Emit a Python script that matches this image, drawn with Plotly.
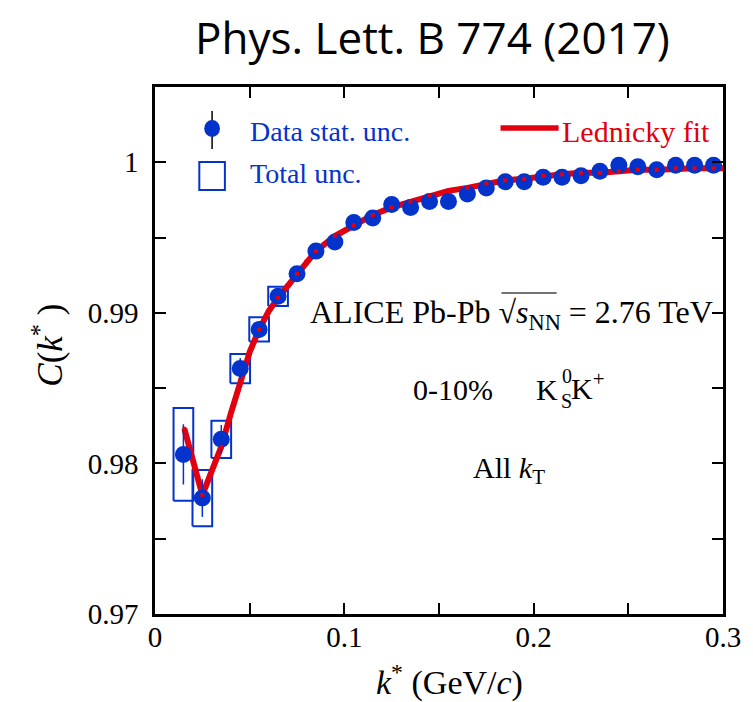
import plotly.graph_objects as go

# ---------------- data ----------------
k_data = [0.015, 0.025, 0.035, 0.045, 0.055, 0.065, 0.075, 0.085, 0.095, 0.105,
          0.115, 0.125, 0.135, 0.145, 0.155, 0.165, 0.175, 0.185, 0.195, 0.205,
          0.215, 0.225, 0.235, 0.245, 0.255, 0.265, 0.275, 0.285, 0.295]
C_data = [0.9806, 0.9777, 0.9816, 0.9863, 0.9889, 0.9911, 0.9926, 0.9941, 0.9947, 0.9960,
          0.9963, 0.9972, 0.9970, 0.9974, 0.9974, 0.9979, 0.9983, 0.9987, 0.9987, 0.9990,
          0.9990, 0.9991, 0.9994, 0.9998, 0.9997, 0.9995, 0.9998, 0.9998, 0.9998]
stat_unc = [0.0020, 0.00125, 0.00095, 0.0007, 0.00055, 0.0004, 0.0003, 0.0003, 0.0003, 0.0003,
            0.0003, 0.0003, 0.0003, 0.0003, 0.0003, 0.0003, 0.0003, 0.0003, 0.0003, 0.0003,
            0.0003, 0.0003, 0.0003, 0.0003, 0.0003, 0.0003, 0.0003, 0.0003, 0.0003]
# total uncertainty boxes (visible ones, first six bins)
k_box = [0.015, 0.025, 0.035, 0.045, 0.055, 0.065]
C_box = [0.9806, 0.9777, 0.9816, 0.9863, 0.9889, 0.9911]
total_unc = [0.00308, 0.00187, 0.00124, 0.00097, 0.00081, 0.00064]
box_halfwidth = 0.0052

# Lednicky fit curve
k_fit = [0.0155, 0.020, 0.025, 0.030, 0.035, 0.040, 0.045, 0.050, 0.055, 0.060,
         0.065, 0.070, 0.075, 0.080, 0.085, 0.095, 0.105, 0.115, 0.125, 0.135,
         0.145, 0.155, 0.165, 0.175, 0.185, 0.195, 0.205, 0.215, 0.225, 0.235,
         0.245, 0.255, 0.265, 0.275, 0.285, 0.295, 0.300]
C_fit = [0.9823, 0.9802, 0.9779, 0.9795, 0.9811, 0.9833, 0.9855, 0.9874, 0.9889, 0.9901,
         0.9910, 0.9918, 0.9926, 0.9934, 0.9941, 0.9951, 0.9958, 0.9965, 0.9970, 0.9974,
         0.9978, 0.9981, 0.9983, 0.9986, 0.9988, 0.9989, 0.9991, 0.9992, 0.9993, 0.9993,
         0.9994, 0.9995, 0.9995, 0.9996, 0.9996, 0.9996, 0.9996]

x_tickvals = [0, 0.05, 0.1, 0.15, 0.2, 0.25, 0.3]
x_ticktext = ["0", "", "0.1", "", "0.2", "", "0.3"]
y_tickvals = [0.97, 0.975, 0.98, 0.985, 0.99, 0.995, 1.0]
y_ticktext = ["0.97", "", "0.98", "", "0.99", "", "1"]

BLUE = "#0433cc"
RED = "#e2000f"
SERIF = "Liberation Serif, Times New Roman, serif"

W, H = 753, 702
L, R, T, B = 155, 21, 87, 88


def px(x):
    return (x - L) / (W - L - R)


def py(y):
    return (H - B - y) / (H - T - B)


fig = go.Figure()

# total uncertainty boxes built from arrays
bx, by = [], []
for k, c, u in zip(k_box, C_box, total_unc):
    bx += [k - box_halfwidth, k + box_halfwidth, k + box_halfwidth, k - box_halfwidth, k - box_halfwidth, None]
    by += [c - u, c - u, c + u, c + u, c - u, None]
fig.add_trace(go.Scatter(x=bx, y=by, mode="lines", line=dict(color=BLUE, width=2),
                         hoverinfo="skip", showlegend=False))

# fit line
fig.add_trace(go.Scatter(x=k_fit, y=C_fit, mode="lines", line=dict(color=RED, width=6),
                         showlegend=False))

# data points with stat errors
fig.add_trace(go.Scatter(x=k_data, y=C_data, mode="markers",
                         marker=dict(color=BLUE, size=17, line=dict(width=0)),
                         error_y=dict(type="data", array=stat_unc, color=BLUE, thickness=1.5, width=0),
                         showlegend=False))

# small red dots of the fit visible on top of the markers
fig.add_trace(go.Scatter(x=k_fit, y=C_fit, mode="markers",
                         marker=dict(color=RED, size=4, symbol="square"),
                         hoverinfo="skip", showlegend=False))

axis_common = dict(showline=True, linecolor="black", linewidth=2.5, mirror="allticks",
                   ticks="inside", ticklen=11, tickwidth=2, tickcolor="black",
                   showgrid=False, zeroline=False,
                   tickfont=dict(family=SERIF, size=29, color="black"))

fig.update_xaxes(range=[0, 0.3], tickmode="array", tickvals=x_tickvals, ticktext=x_ticktext,
                 ticklabelstandoff=-5, **axis_common)
fig.update_yaxes(range=[0.97, 1.005], tickmode="array", tickvals=y_tickvals, ticktext=y_ticktext,
                 ticklabelstandoff=8, **axis_common)

shapes = []
annotations = []

# ---- legend ----
shapes.append(dict(type="line", xref="paper", yref="paper", x0=px(213), x1=px(213), y0=py(111), y1=py(149),
                   line=dict(color="black", width=1.5)))
shapes.append(dict(type="circle", xref="paper", yref="paper", x0=px(205), x1=px(221), y0=py(120), y1=py(137),
                   fillcolor=BLUE, line=dict(color=BLUE, width=0)))
shapes.append(dict(type="rect", xref="paper", yref="paper", x0=px(200), x1=px(226), y0=py(162), y1=py(190),
                   line=dict(color=BLUE, width=2)))
shapes.append(dict(type="line", xref="paper", yref="paper", x0=px(506), x1=px(565), y0=py(128), y1=py(128),
                   line=dict(color=RED, width=5.5)))
annotations.append(dict(text="Data stat. unc.", x=px(249), y=py(131), xref="paper", yref="paper",
                        xanchor="left", yanchor="middle", showarrow=False,
                        font=dict(family=SERIF, size=28, color=BLUE)))
annotations.append(dict(text="Total unc.", x=px(249), y=py(173), xref="paper", yref="paper",
                        xanchor="left", yanchor="middle", showarrow=False,
                        font=dict(family=SERIF, size=28, color=BLUE)))
annotations.append(dict(text="Lednicky fit", x=px(566), y=py(131), xref="paper", yref="paper",
                        xanchor="left", yanchor="middle", showarrow=False,
                        font=dict(family=SERIF, size=30, color=RED)))

# ---- physics labels ----
annotations.append(dict(text="ALICE Pb-Pb √<i>s</i><sub>NN</sub> = 2.76 TeV", x=px(310), y=py(314),
                        xref="paper", yref="paper", xanchor="left", yanchor="middle", showarrow=False,
                        font=dict(family=SERIF, size=32, color="black")))
shapes.append(dict(type="line", xref="paper", yref="paper", x0=px(507), x1=px(563), y0=py(293), y1=py(293),
                   line=dict(color="#444444", width=1.5)))
annotations.append(dict(text="0-10%", x=px(415), y=py(389), xref="paper", yref="paper",
                        xanchor="left", yanchor="middle", showarrow=False,
                        font=dict(family=SERIF, size=30, color="black")))
annotations.append(dict(text="K", x=px(540), y=py(389), xref="paper", yref="paper",
                        xanchor="left", yanchor="middle", showarrow=False,
                        font=dict(family=SERIF, size=30, color="black")))
annotations.append(dict(text="0", x=px(566), y=py(376), xref="paper", yref="paper",
                        xanchor="left", yanchor="middle", showarrow=False,
                        font=dict(family=SERIF, size=20, color="black")))
annotations.append(dict(text="S", x=px(565), y=py(401), xref="paper", yref="paper",
                        xanchor="left", yanchor="middle", showarrow=False,
                        font=dict(family=SERIF, size=20, color="black")))
annotations.append(dict(text="K<sup>+</sup>", x=px(576), y=py(386), xref="paper", yref="paper",
                        xanchor="left", yanchor="middle", showarrow=False,
                        font=dict(family=SERIF, size=30, color="black")))
annotations.append(dict(text="All <i>k</i><sub>T</sub>", x=px(476), y=py(470), xref="paper", yref="paper",
                        xanchor="left", yanchor="middle", showarrow=False,
                        font=dict(family=SERIF, size=30, color="black")))

# ---- axis titles ----
annotations.append(dict(text="<i>k</i><sup>*</sup> (GeV/<i>c</i>)", x=px(454), y=py(680),
                        xref="paper", yref="paper", xanchor="center", yanchor="middle", showarrow=False,
                        font=dict(family=SERIF, size=34, color="black")))
annotations.append(dict(text="<i>C</i>(<i>k</i><sup>*</sup> )", x=px(46), y=py(345),
                        xref="paper", yref="paper", xanchor="center", yanchor="middle", showarrow=False,
                        textangle=-90, font=dict(family=SERIF, size=35, color="black")))

# ---- title ----
annotations.append(dict(text="Phys. Lett. B 774 (2017)", x=px(437), y=py(37),
                        xref="paper", yref="paper", xanchor="center", yanchor="middle", showarrow=False,
                        font=dict(family="Open Sans, sans-serif", size=44, color="black")))

fig.update_layout(width=W, height=H, margin=dict(l=L, r=R, t=T, b=B),
                  paper_bgcolor="white", plot_bgcolor="white",
                  shapes=shapes, annotations=annotations, showlegend=False)

fig.write_html("out.html", config={"displayModeBar": False})
